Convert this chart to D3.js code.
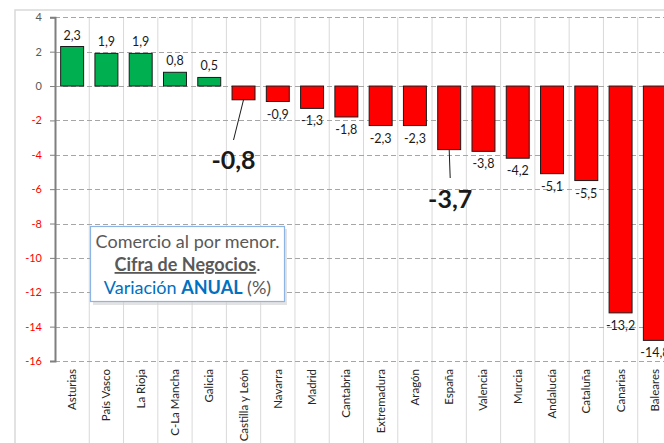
<!DOCTYPE html>
<html>
<head>
<meta charset="utf-8">
<script src="https://cdn.jsdelivr.net/npm/d3@7"></script>
<style>
body { margin: 0; background: #fff; }
svg { font-family: Lato, "Open Sans", sans-serif; }
</style>
</head>
<body>
<svg id="svg0" width="664" height="443"></svg>
<script>
var regions = ['Asturias','País Vasco','La Rioja','C-La Mancha','Galicia','Castilla y León','Navarra','Madrid','Cantabria','Extremadura','Aragón','España','Valencia','Murcia','Andalucía','Cataluña','Canarias','Baleares'];
var variation = [2.3, 1.9, 1.9, 0.8, 0.5, -0.8, -0.9, -1.3, -1.8, -2.3, -2.3, -3.7, -3.8, -4.2, -5.1, -5.5, -13.2, -14.8];
var y_ticks = [4, 2, 0, -2, -4, -6, -8, -10, -12, -14, -16];
var callouts = ['Castilla y León', 'España'];

var svg0 = d3.select('#svg0');
var plot_left = 55, plot_right = 672, plot_top = 17.3, plot_bottom = 361;

var x = d3.scaleBand().domain(regions).range([plot_left, plot_right]).paddingInner(0.33).paddingOuter(0.165);
var y = d3.scaleLinear().domain([-16, 4]).range([plot_bottom, plot_top]);
var fmt = v => String(v).replace('.', ',');

// chart frame
svg0.append('rect').attr('x', 15).attr('y', 10).attr('width', 700).attr('height', 500)
	.attr('fill', '#fff').attr('stroke', '#d9d9d9').attr('stroke-width', 1.5);

// vertical gridlines at band boundaries
var step = x.step();
svg0.selectAll('.vgrid').data(d3.range(1, regions.length + 1)).enter().append('line')
	.attr('x1', i => plot_left + i*step).attr('x2', i => plot_left + i*step)
	.attr('y1', plot_top).attr('y2', 443)
	.attr('stroke', '#d9d9d9').attr('stroke-width', 1);

// horizontal dashed gridlines
svg0.selectAll('.hgrid').data(y_ticks).enter().append('line')
	.attr('x1', plot_left).attr('x2', 664)
	.attr('y1', d => Math.round(y(d))+0.5).attr('y2', d => Math.round(y(d))+0.5)
	.attr('stroke', '#a6a6a6').attr('stroke-dasharray', '5,3').attr('stroke-width', 1);

// y axis
var yAxis = d3.axisLeft(y).tickValues(y_ticks).tickSize(5).tickPadding(8).tickFormat(d => d);
var gy = svg0.append('g').attr('transform', 'translate(' + plot_left + ',0)').call(yAxis);
gy.select('.domain').attr('stroke', '#7f7f7f').attr('stroke-width', 2);
gy.selectAll('.tick line').attr('stroke', '#7f7f7f');
gy.selectAll('.tick text').attr('font-size', 11).attr('font-family', 'Lato, sans-serif')
	.attr('fill', d => d < 0 ? '#ff0000' : '#595959');

// bars
svg0.selectAll('.bar').data(regions).enter().append('rect')
	.attr('x', d => x(d)).attr('width', x.bandwidth())
	.attr('y', (d, i) => y(Math.max(0, variation[i])))
	.attr('height', (d, i) => Math.abs(y(variation[i]) - y(0)))
	.attr('fill', (d, i) => variation[i] >= 0 ? '#00b050' : '#ff0000')
	.attr('stroke', '#1a1a1a').attr('stroke-width', 1);

// value labels
svg0.selectAll('.val').data(regions.filter(d => callouts.indexOf(d) < 0)).enter().append('text')
	.attr('x', d => x(d) + x.bandwidth()/2)
	.attr('y', d => {
		var v = variation[regions.indexOf(d)];
		return v >= 0 ? y(v) - 7 : y(v) + 17;
	})
	.attr('text-anchor', 'middle').attr('font-size', 12.5).attr('fill', '#1a1a1a')
	.text(d => fmt(variation[regions.indexOf(d)]));

// callouts with leader lines
var callout_pos = {'Castilla y León': {dx: -10, ty: 169, ly: 140}, 'España': {dx: 1, ty: 208, ly: 178}};
callouts.forEach(function(c) {
	var v = variation[regions.indexOf(c)];
	var cx = x(c) + x.bandwidth()/2;
	var p = callout_pos[c];
	svg0.append('line').attr('x1', cx).attr('y1', y(v)).attr('x2', cx + p.dx).attr('y2', p.ly)
		.attr('stroke', '#1a1a1a').attr('stroke-width', 1);
	svg0.append('text').attr('x', cx + p.dx).attr('y', p.ty)
		.attr('text-anchor', 'middle').attr('font-size', 25).attr('font-weight', 'bold').attr('fill', '#1a1a1a')
		.text(fmt(v));
});

// category labels
svg0.selectAll('.cat').data(regions).enter().append('text')
	.attr('transform', d => 'translate(' + (x(d) + x.bandwidth()/2 + 4) + ',369) rotate(-90)')
	.attr('text-anchor', 'end').attr('font-size', 11.5).attr('fill', '#262626')
	.text(d => d);

// text box
var box = svg0.append('g');
box.append('rect').attr('x', 93).attr('y', 229).attr('width', 194).attr('height', 76)
	.attr('fill', '#d0d0d0').attr('opacity', 0.6);
box.append('rect').attr('x', 90.5).attr('y', 226.5).attr('width', 194).attr('height', 75)
	.attr('fill', '#fff').attr('stroke', '#8eb4e3').attr('stroke-width', 1.2);
box.append('text').attr('x', 187.5).attr('y', 248).attr('text-anchor', 'middle')
	.attr('font-size', 18).attr('fill', '#595959').text('Comercio al por menor.');
var t2 = box.append('text').attr('x', 187.5).attr('y', 271).attr('text-anchor', 'middle')
	.attr('font-size', 18).attr('fill', '#595959');
t2.append('tspan').attr('font-weight', 'bold').attr('text-decoration', 'underline').text('Cifra de Negocios');
t2.append('tspan').text('.');
var t3 = box.append('text').attr('x', 187.5).attr('y', 294).attr('text-anchor', 'middle')
	.attr('font-size', 18);
t3.append('tspan').attr('fill', '#0070c0').text('Variación ');
t3.append('tspan').attr('fill', '#0070c0').attr('font-weight', 'bold').text('ANUAL');
t3.append('tspan').attr('fill', '#595959').text(' (%)');
</script>
</body>
</html>
